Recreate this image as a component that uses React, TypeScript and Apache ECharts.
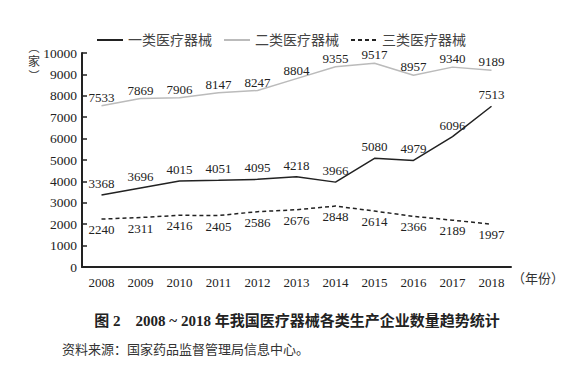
import React, { useEffect, useRef } from "react";
import * as echarts from "echarts";

const years = ["2008", "2009", "2010", "2011", "2012", "2013", "2014", "2015", "2016", "2017", "2018"];
const class1 = [3368, 3696, 4015, 4051, 4095, 4218, 3966, 5080, 4979, 6096, 7513];
const class2 = [7533, 7869, 7906, 8147, 8247, 8804, 9355, 9517, 8957, 9340, 9189];
const class3 = [2240, 2311, 2416, 2405, 2586, 2676, 2848, 2614, 2366, 2189, 1997];
const seriesNames = ["一类医疗器械", "二类医疗器械", "三类医疗器械"];
const yTicks = { min: 0, max: 10000, interval: 1000 };
const title = "图 2　2008 ~ 2018 年我国医疗器械各类生产企业数量趋势统计";
const source = "资料来源：国家药品监督管理局信息中心。";
const xName = "（年份）";

const FONT = "Liberation Serif, Times New Roman, Noto Sans CJK SC, serif";

export default function App() {
  const ref = useRef<HTMLDivElement>(null);
  useEffect(() => {
    if (!ref.current) return;
    const chart = echarts.init(ref.current, null, { renderer: "svg" });
    const labelStyle = { color: "#222", fontSize: 13, fontFamily: FONT };
    chart.setOption({
      animation: false,
      backgroundColor: "#fff",
      textStyle: { fontFamily: FONT },
      legend: {
        top: 28,
        left: 91,
        itemWidth: 26,
        itemHeight: 10,
        itemGap: 11,
        itemStyle: { opacity: 0 },
        textStyle: { fontSize: 14, color: "#444", fontFamily: FONT },
        data: seriesNames,
      },
      grid: { left: 82, right: 74, top: 53, bottom: 99 },
      xAxis: {
        type: "category",
        data: years,
        boundaryGap: true,
        axisLine: { lineStyle: { color: "#222", width: 2 } },
        axisTick: { inside: true, length: 5, lineStyle: { color: "#222", width: 1.5 } },
        axisLabel: { color: "#222", fontSize: 13, margin: 9, fontFamily: FONT },
      },
      yAxis: {
        type: "value",
        min: yTicks.min,
        max: yTicks.max,
        interval: yTicks.interval,
        splitLine: { show: false },
        axisLine: { show: true, lineStyle: { color: "#222", width: 2 } },
        axisTick: { show: true, inside: true, length: 5, lineStyle: { color: "#222", width: 1.5 } },
        axisLabel: { color: "#222", fontSize: 13.5, margin: 5, fontFamily: FONT, formatter: (v: number) => String(v) },
      },
      graphic: [
        {
          type: "text",
          x: 34,
          y: 48,
          style: { text: "︵", fontSize: 11, fill: "#333", fontFamily: FONT, align: "center", verticalAlign: "middle" },
        },
        {
          type: "text",
          x: 34,
          y: 62,
          style: { text: "家", fontSize: 12, fill: "#333", fontFamily: FONT, align: "center", verticalAlign: "middle" },
        },
        {
          type: "text",
          x: 34,
          y: 76,
          style: { text: "︶", fontSize: 11, fill: "#333", fontFamily: FONT, align: "center", verticalAlign: "middle" },
        },
        {
          type: "text",
          x: 512,
          y: 278,
          style: { text: xName, fontSize: 13, fill: "#333", fontFamily: FONT, verticalAlign: "middle" },
        },
        {
          type: "text",
          x: 297,
          y: 321,
          style: { text: title, fontSize: 15, fontWeight: "bold", fill: "#222", fontFamily: FONT, align: "center", verticalAlign: "middle" },
        },
        {
          type: "text",
          x: 62,
          y: 349,
          style: { text: source, fontSize: 13, fill: "#333", fontFamily: FONT, verticalAlign: "middle" },
        },
      ],
      series: [
        {
          name: seriesNames[0],
          type: "line",
          data: class1,
          symbol: "circle",
          symbolSize: 0,
          showSymbol: true,
          lineStyle: { color: "#222", width: 1.5 },
          itemStyle: { color: "#222" },
          label: { show: true, position: "top", distance: 5, ...labelStyle },
        },
        {
          name: seriesNames[1],
          type: "line",
          data: class2,
          symbol: "circle",
          symbolSize: 0,
          showSymbol: true,
          lineStyle: { color: "#bbb", width: 1.5 },
          itemStyle: { color: "#bbb" },
          label: { show: true, position: "top", distance: 2, ...labelStyle },
        },
        {
          name: seriesNames[2],
          type: "line",
          data: class3,
          symbol: "circle",
          symbolSize: 0,
          showSymbol: true,
          lineStyle: { color: "#222", width: 1.5, type: [4, 3] },
          itemStyle: { color: "#222" },
          label: { show: true, position: "bottom", distance: 4, ...labelStyle },
        },
      ],
    });
    return () => chart.dispose();
  }, []);
  return <div ref={ref} style={{ width: 585, height: 366, margin: -8 }} />;
}
